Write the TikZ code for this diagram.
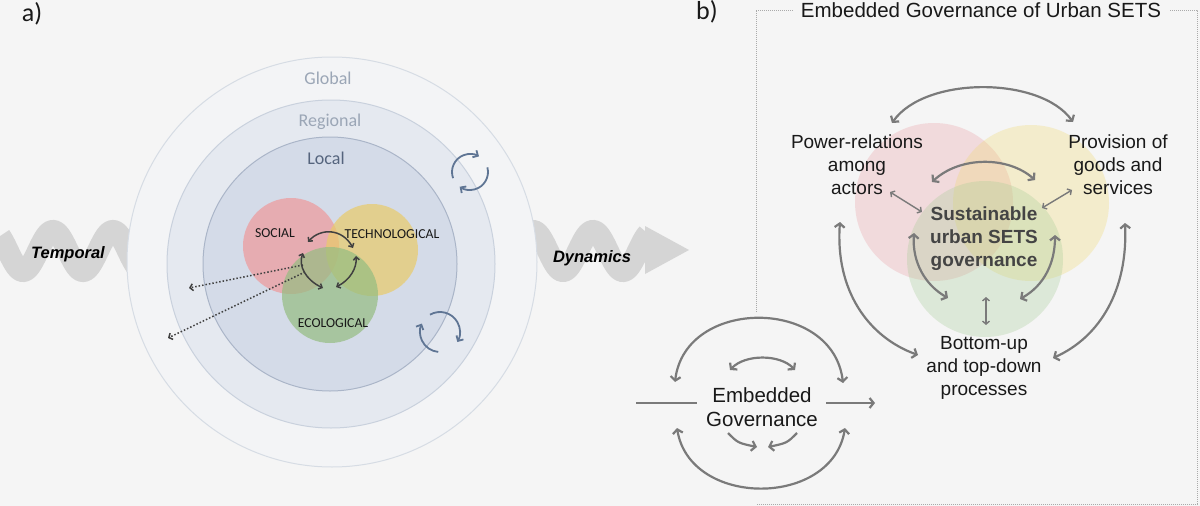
\documentclass[tikz,border=0pt]{standalone}
\usepackage{fontspec}
\setmainfont{Liberation Sans}
\newfontfamily\califont{Carlito}
\usetikzlibrary{arrows.meta}
\definecolor{bgc}{RGB}{245,245,245}
\definecolor{bandc}{RGB}{213,213,213}
\definecolor{globf}{RGB}{243,244,246}
\definecolor{globd}{RGB}{214,220,228}
\definecolor{regf}{RGB}{229,233,240}
\definecolor{regd}{RGB}{201,209,221}
\definecolor{locf}{RGB}{212,219,232}
\definecolor{locd}{RGB}{170,181,200}
\definecolor{glabc}{RGB}{155,166,182}
\definecolor{llabc}{RGB}{85,100,125}
\definecolor{socc}{RGB}{238,153,155}
\definecolor{tecc}{RGB}{233,202,105}
\definecolor{ecoc}{RGB}{149,189,129}
\definecolor{pinkc}{RGB}{232,138,146}
\definecolor{yelc}{RGB}{240,216,112}
\definecolor{grnc}{RGB}{165,204,149}
\definecolor{refc}{RGB}{95,117,148}
\definecolor{arrc}{RGB}{122,122,122}
\definecolor{darkc}{RGB}{64,64,64}
\definecolor{framec}{RGB}{170,170,170}
\definecolor{boldc}{RGB}{68,68,68}
\begin{document}
\begin{tikzpicture}[x=1pt,y=-1pt,
  band/.style={line width=22pt,draw=bandc},
  refr/.style={draw=refc,line width=1.8pt,-{Straight Barb[length=4pt,width=8pt]}},
  vennarr/.style={draw=darkc,line width=1.5pt,arrows={Straight Barb[length=3pt,width=6pt]-Straight Barb[length=3pt,width=6pt]}},
  dotarr/.style={draw=darkc,line width=1.5pt,dotted,-{Straight Barb[length=3pt,width=7pt]}},
  garrow/.style={draw=arrc,line width=2.2pt,arrows={Straight Barb[length=4pt,width=10pt]-Straight Barb[length=4pt,width=10pt]}},
  gsingle/.style={draw=arrc,line width=2.2pt,-{Straight Barb[length=4pt,width=10pt]}},
  gthin/.style={draw=arrc,line width=1.4pt,arrows={Straight Barb[length=3pt,width=7pt]-Straight Barb[length=3pt,width=7pt]}},
  caltext/.style={font=\califont\fontsize{13.7}{15}\selectfont,text=black!90},
  scaletext/.style={font=\califont\fontsize{18}{20}\selectfont},
  rtext/.style={font=\fontsize{19}{23}\selectfont,align=center,text=black!90},
  dyntext/.style={font=\bfseries\itshape\fontsize{16.5}{18}\selectfont,text=black},
  paneltext/.style={font=\califont\fontsize{26}{28}\selectfont,text=black!90}
]
\useasboundingbox (0,0) rectangle (1200,506);
\fill[bgc] (0,0) rectangle (1200,506);

% wavy band
\draw[band] plot[domain=0:648,samples=500] (\x,{251-20*cos(6*(\x-53))});
\fill[bandc] (645,226) -- (689,250) -- (645,274) -- cycle;

% scale circles
\filldraw[fill=globf,draw=globd,line width=1pt] (332,262) circle[radius=205];
\filldraw[fill=regf,draw=regd,line width=1pt] (331,264) circle[radius=164];
\filldraw[fill=locf,draw=locd,line width=1pt] (330,264) circle[radius=127];

\node[scaletext,text=glabc] (glob) at (328,78) {Global};
\node[scaletext,text=glabc] (reg) at (330,122) {Regional};
\node[scaletext,text=llabc] (loc) at (326,158) {Local};

% left venn
\fill[socc,fill opacity=0.7] (291,246) circle[radius=48];
\fill[tecc,fill opacity=0.7] (372,250) circle[radius=46];
\fill[ecoc,fill opacity=0.7] (330,295) circle[radius=48];
\node[caltext] (soc) at (275,233) {SOCIAL};
\node[caltext] (tec) at (392,234) {TECHNOLOGICAL};
\node[caltext] (eco) at (333,323) {ECOLOGICAL};

\coordinate (v1) at (308,242);
\coordinate (v2) at (353,248);
\coordinate (v3) at (303,253);
\coordinate (v4) at (323,288);
\coordinate (v5) at (356,256);
\coordinate (v6) at (336,287);
\draw[vennarr] (v1) .. controls (320,228) and (342,228) .. (v2);
\draw[vennarr] (v3) .. controls (298,266) and (306,280) .. (v4);
\draw[vennarr] (v5) .. controls (357,268) and (350,280) .. (v6);

\coordinate (d0) at (303,265);
\coordinate (d1) at (189,288);
\coordinate (d2) at (305,272);
\coordinate (d3) at (168,338);
\draw[dotarr] (d0) -- (d1);
\draw[dotarr] (d2) -- (d3);

% refresh icons
\draw[refr] (470,172) ++(160:18) arc[start angle=160,end angle=300,radius=18];
\draw[refr] (470,172) ++(345:18) arc[start angle=345,end angle=485,radius=18];
\draw[refr] (440,332) ++(240:20) arc[start angle=240,end angle=390,radius=20];
\draw[refr] (440,332) ++(95:20) arc[start angle=95,end angle=205,radius=20];

% dynamics labels
\node[dyntext] (temp) at (68,254) {Temporal};
\node[dyntext] (dyn) at (592,258) {Dynamics};

% panel labels
\node[paneltext] (la) at (32,14) {a)};
\node[paneltext] (lb) at (707,12) {b)};

% frame
\draw[framec,line width=1pt,densely dotted] (756,312) -- (756,10) -- (1197,10) -- (1197,504) -- (756,504);
\node[fill=bgc,inner xsep=8pt,inner ysep=2pt,font=\fontsize{20.5}{24}\selectfont,text=black!90] (title) at (981,10) {Embedded Governance of Urban SETS};

% right venn
\fill[pinkc,fill opacity=0.25] (934,202) circle[radius=79];
\fill[yelc,fill opacity=0.3] (1031,203) circle[radius=78];
\fill[grnc,fill opacity=0.3] (985,259) circle[radius=78];

\node[rtext] (pow) at (857,165) {Power-relations\\among\\actors};
\node[rtext] (prov) at (1118,165) {Provision of\\goods and\\services};
\node[rtext,font=\bfseries\fontsize{19}{23}\selectfont,text=boldc] (sus) at (984,239) {Sustainable\\urban SETS\\governance};
\node[rtext] (bot) at (984,368) {Bottom-up\\and top-down\\processes};

\coordinate (r1) at (892,123);
\coordinate (r2) at (1073,122);
\coordinate (r3) at (932,182);
\coordinate (r4) at (1035,180);
\coordinate (r5) at (890,192);
\coordinate (r6) at (922,212);
\coordinate (r7) at (1072,190);
\coordinate (r8) at (1042,208);
\coordinate (r9) at (840,222);
\coordinate (r10) at (918,355);
\coordinate (r11) at (1125,223);
\coordinate (r12) at (1053,358);
\coordinate (r13) at (914,233);
\coordinate (r14) at (948,298);
\coordinate (r15) at (1055,235);
\coordinate (r16) at (1020,299);
\coordinate (r17) at (986,297);
\coordinate (r18) at (986,325);
\draw[garrow] (r1) .. controls (925,76) and (1040,76) .. (r2);
\draw[garrow] (r3) .. controls (960,156) and (1008,156) .. (r4);
\draw[gthin] (r5) -- (r6);
\draw[gthin] (r7) -- (r8);
\draw[garrow] (r9) .. controls (835,290) and (868,337) .. (r10);
\draw[garrow] (r11) .. controls (1128,290) and (1100,337) .. (r12);
\draw[garrow] (r13) .. controls (912,262) and (925,285) .. (r14);
\draw[garrow] (r15) .. controls (1055,262) and (1045,285) .. (r16);
\draw[gthin] (r17) -- (r18);

% embedded governance
\node[rtext,font=\fontsize{20.5}{24}\selectfont] (emb) at (762,407) {Embedded\\Governance};
\coordinate (e1) at (636,403);
\coordinate (e2) at (697,403);
\coordinate (e3) at (826,403);
\coordinate (e4) at (875,403);
\coordinate (e5) at (675,382);
\coordinate (e6) at (843,383);
\coordinate (e7) at (730,370);
\coordinate (e8) at (795,370);
\coordinate (e9) at (677,428);
\coordinate (e10) at (845,428);
\coordinate (e11) at (728,433);
\coordinate (e12) at (757,447);
\coordinate (e13) at (797,433);
\coordinate (e14) at (768,447);
\draw[draw=arrc,line width=2.2pt] (e1) -- (e2);
\draw[gsingle] (e3) -- (e4);
\draw[garrow] (e5) .. controls (685,297) and (833,297) .. (e6);
\draw[garrow] (e7) .. controls (745,354) and (780,354) .. (e8);
\draw[garrow] (e9) .. controls (690,508) and (832,508) .. (e10);
\draw[gsingle] (e11) .. controls (738,443) .. (e12);
\draw[gsingle] (e13) .. controls (787,443) .. (e14);
\end{tikzpicture}
\end{document}
